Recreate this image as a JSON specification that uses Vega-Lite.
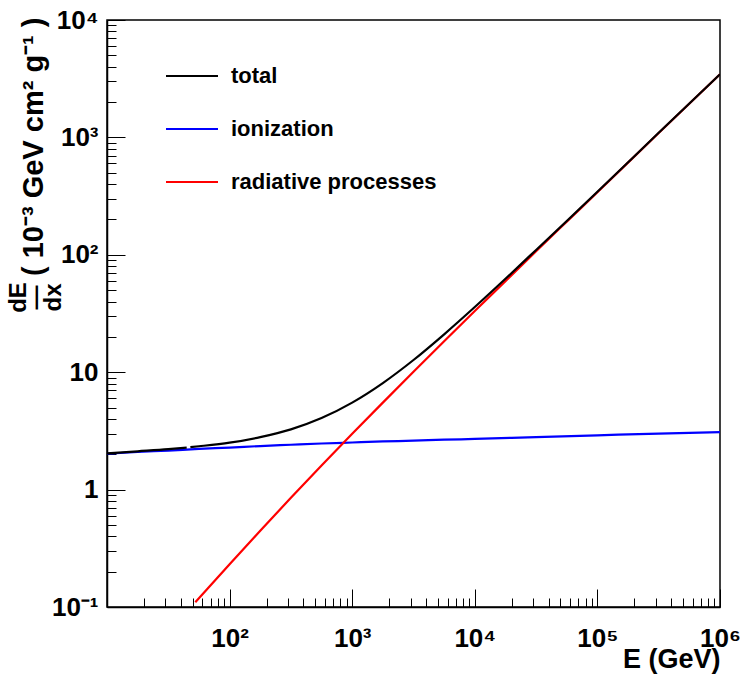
{
  "$schema": "https://vega.github.io/schema/vega-lite/v6.json",
  "width": 613,
  "height": 587,
  "autosize": "none",
  "padding": {"left": 107, "top": 20, "right": 28, "bottom": 67},
  "background": "white",
  "config": {
    "font": "Liberation Sans",
    "view": {"stroke": "black", "strokeWidth": 1.5},
    "axis": {"grid": false, "domainColor": "black", "domainWidth": 1.5, "tickColor": "black", "tickWidth": 1, "labelColor": "black", "titleColor": "black"}
  },
  "data": {
    "values": [
      {"E": 10, "v": 2.02, "series": "ionization", "seg": 1},
      {"E": 17.78, "v": 2.09, "series": "ionization", "seg": 1},
      {"E": 31.62, "v": 2.15, "series": "ionization", "seg": 1},
      {"E": 56.23, "v": 2.22, "series": "ionization", "seg": 1},
      {"E": 100, "v": 2.28, "series": "ionization", "seg": 1},
      {"E": 177.8, "v": 2.35, "series": "ionization", "seg": 1},
      {"E": 316.2, "v": 2.41, "series": "ionization", "seg": 1},
      {"E": 562.3, "v": 2.47, "series": "ionization", "seg": 1},
      {"E": 1000, "v": 2.52, "series": "ionization", "seg": 1},
      {"E": 1778, "v": 2.57, "series": "ionization", "seg": 1},
      {"E": 3162, "v": 2.61, "series": "ionization", "seg": 1},
      {"E": 5623, "v": 2.66, "series": "ionization", "seg": 1},
      {"E": 10000, "v": 2.70, "series": "ionization", "seg": 1},
      {"E": 31623, "v": 2.80, "series": "ionization", "seg": 1},
      {"E": 100000, "v": 2.90, "series": "ionization", "seg": 1},
      {"E": 316228, "v": 3.00, "series": "ionization", "seg": 1},
      {"E": 1000000, "v": 3.09, "series": "ionization", "seg": 1},
      {"E": 52.5, "v": 0.1096, "series": "radiative processes", "seg": 1},
      {"E": 100, "v": 0.2317, "series": "radiative processes", "seg": 1},
      {"E": 177.8, "v": 0.4467, "series": "radiative processes", "seg": 1},
      {"E": 316.2, "v": 0.8511, "series": "radiative processes", "seg": 1},
      {"E": 562.3, "v": 1.603, "series": "radiative processes", "seg": 1},
      {"E": 1000, "v": 2.985, "series": "radiative processes", "seg": 1},
      {"E": 1778, "v": 5.508, "series": "radiative processes", "seg": 1},
      {"E": 3162, "v": 10.09, "series": "radiative processes", "seg": 1},
      {"E": 5623, "v": 18.37, "series": "radiative processes", "seg": 1},
      {"E": 10000, "v": 33.19, "series": "radiative processes", "seg": 1},
      {"E": 17783, "v": 59.70, "series": "radiative processes", "seg": 1},
      {"E": 31623, "v": 107.2, "series": "radiative processes", "seg": 1},
      {"E": 56234, "v": 191.4, "series": "radiative processes", "seg": 1},
      {"E": 100000, "v": 341.2, "series": "radiative processes", "seg": 1},
      {"E": 316228, "v": 1091, "series": "radiative processes", "seg": 1},
      {"E": 1000000, "v": 3451, "series": "radiative processes", "seg": 1},
      {"E": 10, "v": 2.036, "series": "total", "seg": 1},
      {"E": 17.78, "v": 2.12, "series": "total", "seg": 1},
      {"E": 31.62, "v": 2.21, "series": "total", "seg": 1},
      {"E": 44.67, "v": 2.28, "series": "total", "seg": 1},
      {"E": 47.86, "v": 2.30, "series": "total", "seg": 2},
      {"E": 56.23, "v": 2.34, "series": "total", "seg": 2},
      {"E": 100, "v": 2.51, "series": "total", "seg": 2},
      {"E": 177.8, "v": 2.80, "series": "total", "seg": 2},
      {"E": 316.2, "v": 3.26, "series": "total", "seg": 2},
      {"E": 562.3, "v": 4.07, "series": "total", "seg": 2},
      {"E": 1000, "v": 5.51, "series": "total", "seg": 2},
      {"E": 1778, "v": 8.08, "series": "total", "seg": 2},
      {"E": 3162, "v": 12.70, "series": "total", "seg": 2},
      {"E": 5623, "v": 21.03, "series": "total", "seg": 2},
      {"E": 10000, "v": 35.89, "series": "total", "seg": 2},
      {"E": 17783, "v": 62.45, "series": "total", "seg": 2},
      {"E": 31623, "v": 110.0, "series": "total", "seg": 2},
      {"E": 56234, "v": 194.3, "series": "total", "seg": 2},
      {"E": 100000, "v": 344.1, "series": "total", "seg": 2},
      {"E": 316228, "v": 1094, "series": "total", "seg": 2},
      {"E": 1000000, "v": 3454, "series": "total", "seg": 2}
    ]
  },
  "resolve": {"axis": {"x": "independent"}},
  "layer": [
    {
      "transform": [{"filter": "datum.series != 'total'"}],
      "mark": {"type": "line", "clip": true, "strokeWidth": 2.2, "interpolate": "monotone"},
      "encoding": {
        "x": {
          "field": "E", "type": "quantitative",
          "scale": {"type": "log", "domain": [10, 1000000], "nice": false},
          "axis": {
            "orient": "bottom",
            "values": [10,20,30,40,50,60,70,80,90,100,200,300,400,500,600,700,800,900,1000,2000,3000,4000,5000,6000,7000,8000,9000,10000,20000,30000,40000,50000,60000,70000,80000,90000,100000,200000,300000,400000,500000,600000,700000,800000,900000,1000000],
            "labelExpr": "datum.value == 100 ? '10²' : datum.value == 1000 ? '10³' : datum.value == 10000 ? '10⁴' : datum.value == 100000 ? '10⁵' : datum.value == 1000000 ? '10⁶' : ''",
            "tickSize": {"condition": {"test": "indexof([10,100,1000,10000,100000,1000000], datum.value) >= 0", "value": -18}, "value": -9},
            "labelPadding": 36,
            "labelFontSize": 26,
            "labelFontWeight": "bold",
            "labelFlush": false,
            "labelOverlap": false,
            "labelBound": false,
            "title": "E (GeV)",
            "titleFontSize": 27,
            "titleFontWeight": "bold",
            "titleAnchor": "end",
            "titleAlign": "right",
            "titleBaseline": "alphabetic",
            "titleX": 613,
            "titleY": 60
          }
        },
        "y": {
          "field": "v", "type": "quantitative",
          "scale": {"type": "log", "domain": [0.1, 10000], "nice": false},
          "axis": {
            "orient": "left",
            "values": [0.1,0.2,0.3,0.4,0.5,0.6,0.7,0.8,0.9,1,2,3,4,5,6,7,8,9,10,20,30,40,50,60,70,80,90,100,200,300,400,500,600,700,800,900,1000,2000,3000,4000,5000,6000,7000,8000,9000,10000],
            "labelExpr": "datum.value == 0.1 ? '10⁻¹' : datum.value == 1 ? '1' : datum.value == 10 ? '10' : datum.value == 100 ? '10²' : datum.value == 1000 ? '10³' : datum.value == 10000 ? '10⁴' : ''",
            "tickSize": {"condition": {"test": "indexof([0.1,1,10,100,1000,10000], datum.value) >= 0", "value": -18}, "value": -9},
            "labelPadding": 27,
            "labelFontSize": 26,
            "labelFontWeight": "bold",
            "labelAlign": "right",
            "labelBaseline": "middle",
            "labelFlush": false,
            "labelOverlap": false,
            "labelBound": false,
            "title": "( 10⁻³ GeV cm² g⁻¹ )",
            "titleFontSize": 29,
            "titleFontWeight": "bold",
            "titleAngle": 270,
            "titleAlign": "right",
            "titleBaseline": "alphabetic",
            "titleX": -65,
            "titleY": -3
          }
        },
        "color": {
          "field": "series", "type": "nominal",
          "scale": {"domain": ["total", "ionization", "radiative processes"], "range": ["black", "#0000ff", "#ff0000"]},
          "legend": {
            "orient": "none",
            "legendX": 58,
            "legendY": 29,
            "title": null,
            "symbolType": "stroke",
            "symbolSize": 2704,
            "symbolStrokeWidth": 2,
            "labelFontSize": 22,
            "labelFontWeight": "bold",
            "labelColor": "black",
            "labelLimit": 0,
            "labelOffset": 12,
            "rowPadding": 15,
            "padding": 0
          }
        }
      }
    },
    {
      "transform": [{"filter": "datum.series == 'total'"}],
      "mark": {"type": "line", "clip": true, "strokeWidth": 2.2, "interpolate": "monotone"},
      "encoding": {
        "x": {
          "field": "E", "type": "quantitative",
          "scale": {"type": "log", "domain": [10, 1000000], "nice": false},
          "axis": {
            "orient": "top",
            "domain": false,
            "ticks": false,
            "labels": false,
            "grid": false,
            "title": ["dE", "—", "dx"],
            "titleFontSize": 24,
            "titleFontWeight": "bold",
            "titleAngle": 270,
            "titleAlign": "center",
            "titleBaseline": "alphabetic",
            "titleLineHeight": 17.5,
            "titleX": -82,
            "titleY": 277
          }
        },
        "y": {
          "field": "v", "type": "quantitative",
          "scale": {"type": "log", "domain": [0.1, 10000], "nice": false}
        },
        "detail": {"field": "seg", "type": "nominal"},
        "color": {"field": "series", "type": "nominal"}
      }
    }
  ]
}
